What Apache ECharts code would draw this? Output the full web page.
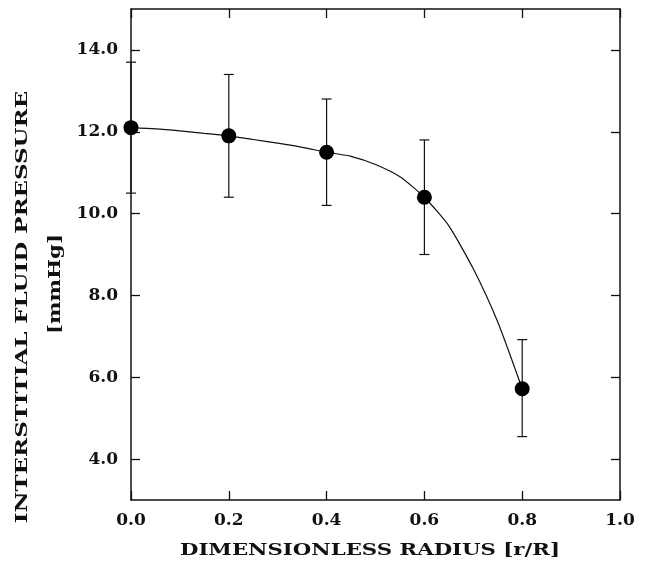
<!DOCTYPE html>
<html>
<head>
<meta charset="utf-8" />
<script src="https://cdn.jsdelivr.net/npm/echarts@6/dist/echarts.min.js"></script>
<style>
  html, body { margin: 0; padding: 0; background: #fff; }
  #main { width: 653px; height: 570px; }
</style>
</head>
<body>
<div id="main"></div>
<script>
// measured points (mean +/- error bar)
const radius = [0.0, 0.2, 0.4, 0.6, 0.8];
const pressure = [12.1, 11.9, 11.5, 10.4, 5.72];
const errLow = [10.5, 10.4, 10.2, 9.0, 4.55];
const errHigh = [13.7, 13.4, 12.8, 11.8, 6.92];

// fitted curve
const fitX = [0.0, 0.05, 0.1, 0.15, 0.2, 0.25, 0.3, 0.35, 0.4, 0.45, 0.5, 0.55, 0.6, 0.65, 0.7, 0.75, 0.8];
const fitY = [12.1, 12.07, 12.02, 11.96, 11.9, 11.81, 11.72, 11.62, 11.5, 11.4, 11.2, 10.9, 10.4, 9.7, 8.65, 7.35, 5.72];

const yTicks = [4, 6, 8, 10, 12, 14];

const chart = echarts.init(document.getElementById("main"));

const font = "DejaVu Serif";
const ink = "#111";
const axisLine = { show: true, onZero: false, lineStyle: { color: ink, width: 1.5 } };
const tickIn = { show: true, inside: true, length: 9, lineStyle: { color: ink, width: 1.3 } };

const option = {
  animation: false,
  backgroundColor: "#fff",
  grid: { left: 131, right: 33, top: 9, bottom: 70 },
  xAxis: [
    {
      type: "value",
      min: 0,
      max: 1,
      interval: 0.2,
      axisLine: axisLine,
      axisTick: tickIn,
      splitLine: { show: false },
      axisLabel: {
        margin: 12,
        color: ink,
        fontFamily: font,
        fontWeight: "bold",
        fontSize: 17,
        formatter: (v) => v.toFixed(1),
      },
    },
    {
      type: "value",
      position: "top",
      min: 0,
      max: 1,
      interval: 0.2,
      axisLine: axisLine,
      axisTick: tickIn,
      splitLine: { show: false },
      axisLabel: { show: false },
    },
  ],
  yAxis: [
    {
      type: "value",
      min: 3,
      max: 15,
      axisLine: axisLine,
      axisTick: Object.assign({}, tickIn, { customValues: yTicks }),
      splitLine: { show: false },
      axisLabel: {
        customValues: yTicks,
        margin: 13,
        color: ink,
        fontFamily: font,
        fontWeight: "bold",
        fontSize: 17,
        formatter: (v) => v.toFixed(1),
      },
    },
    {
      type: "value",
      position: "right",
      min: 3,
      max: 15,
      axisLine: axisLine,
      axisTick: Object.assign({}, tickIn, { customValues: yTicks }),
      splitLine: { show: false },
      axisLabel: { show: false },
    },
  ],
  graphic: [
    {
      type: "text",
      x: 370,
      y: 551,
      scaleX: 1.25,
      style: {
        text: "DIMENSIONLESS RADIUS [r/R]",
        x: 0,
        y: 0,
        align: "center",
        verticalAlign: "middle",
        fill: ink,
        font: "bold 17px 'DejaVu Serif'",
      },
    },
    {
      type: "text",
      x: 23,
      y: 307,
      rotation: Math.PI / 2,
      scaleX: 1.35,
      style: {
        text: "INTERSTITIAL FLUID PRESSURE",
        x: 0,
        y: 0,
        align: "center",
        verticalAlign: "middle",
        fill: ink,
        font: "bold 17px 'DejaVu Serif'",
      },
    },
    {
      type: "text",
      x: 56,
      y: 284,
      rotation: Math.PI / 2,
      scaleX: 1.25,
      style: {
        text: "[mmHg]",
        x: 0,
        y: 0,
        align: "center",
        verticalAlign: "middle",
        fill: ink,
        font: "bold 17px 'DejaVu Serif'",
      },
    },
  ],
  series: [
    {
      type: "line",
      smooth: 0.2,
      showSymbol: false,
      data: fitX.map((x, i) => [x, fitY[i]]),
      lineStyle: { color: ink, width: 1.2 },
      z: 2,
    },
    {
      type: "custom",
      data: radius.map((x, i) => [x, errLow[i], errHigh[i]]),
      renderItem: (params, api) => {
        const lo = api.coord([api.value(0), api.value(1)]);
        const hi = api.coord([api.value(0), api.value(2)]);
        const w = 5;
        const st = { stroke: ink, lineWidth: 1.2 };
        return {
          type: "group",
          children: [
            { type: "line", shape: { x1: lo[0], y1: lo[1], x2: hi[0], y2: hi[1] }, style: st },
            { type: "line", shape: { x1: lo[0] - w, y1: lo[1], x2: lo[0] + w, y2: lo[1] }, style: st },
            { type: "line", shape: { x1: hi[0] - w, y1: hi[1], x2: hi[0] + w, y2: hi[1] }, style: st },
          ],
        };
      },
      z: 3,
    },
    {
      type: "scatter",
      symbol: "circle",
      symbolSize: 15,
      data: radius.map((x, i) => [x, pressure[i]]),
      itemStyle: { color: "#000", opacity: 1 },
      z: 4,
    },
  ],
};

chart.setOption(option);
</script>
</body>
</html>
